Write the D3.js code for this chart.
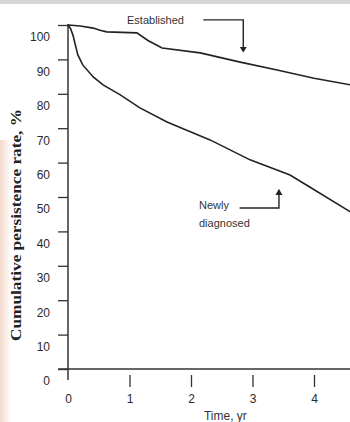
<!DOCTYPE html>
<html lang="en">
    <head>
        <meta charset="UTF-8" />
        <title>Persistence</title>
        <script src="https://d3js.org/d3.v7.js"></script>
    </head>

    <body>
        <div id="chart"></div>
    </body>

    <script>
        // values: time in years, persistence in %
        const establishedT = [0, 0.2, 0.41, 0.52, 0.63, 1.12, 1.3, 1.53, 2.15, 2.8, 3.4, 4.0, 4.6];
        const establishedV = [100, 99.7, 99.1, 98.5, 98, 97.7, 95.5, 93.3, 91.9, 89.2, 86.9, 84.5, 82.6];

        const newlyT = [0, 0.04, 0.08, 0.16, 0.24, 0.41, 0.57, 0.85, 1.17, 1.61, 2.31, 2.96, 3.61, 3.93, 4.6];
        const newlyV = [100, 99, 97.1, 91.3, 88.4, 84.9, 82.6, 79.7, 75.9, 71.8, 66.6, 60.8, 56.4, 52.9, 45.6];

        const yTicks = [0, 10, 20, 30, 40, 50, 60, 70, 80, 90, 100];
        const xTicks = [0, 1, 2, 3, 4];

        const width = 350, height = 422;

        const svg = d3.select("#chart")
            .append("svg")
            .attr("width", width)
            .attr("height", height);

        // faint scan artefacts: grey strip on top, peach tint on the left
        const defs = svg.append("defs");
        const grad = defs.append("linearGradient").attr("id", "edge");
        grad.append("stop").attr("offset", "0%").attr("stop-color", "#f4d9cc");
        grad.append("stop").attr("offset", "100%").attr("stop-color", "#ffffff");
        svg.append("rect").attr("x", 0).attr("y", 0).attr("width", width).attr("height", height).attr("fill", "#fff");
        svg.append("rect").attr("x", 0).attr("y", 140).attr("width", 11).attr("height", 282).attr("fill", "url(#edge)");
        svg.append("rect").attr("x", 0).attr("y", 0).attr("width", width).attr("height", 4).attr("fill", "#d6d6d6");

        const x = d3.scaleLinear().domain([0, 4]).range([68, 314]);
        const y = d3.scaleLinear().domain([0, 100]).range([369, 25]);

        // y axis
        const yAxis = svg.append("g")
            .attr("transform", `translate(${x(0)},0)`)
            .call(d3.axisLeft(y).tickValues(yTicks).tickSize(10).tickPadding(8));
        yAxis.select(".domain").remove();
        yAxis.selectAll("line").attr("stroke", "#333").attr("stroke-width", 1.3);
        yAxis.selectAll("text")
            .attr("y", 12)
            .style("font-family", "Liberation Sans, Arial, sans-serif")
            .style("font-size", "12px")
            .attr("fill", "#2a2a2a");

        svg.append("line")
            .attr("x1", x(0)).attr("x2", x(0))
            .attr("y1", y(100.3)).attr("y2", y(-3.2))
            .attr("stroke", "#333").attr("stroke-width", 1.5);

        // x axis
        const xAxis = svg.append("g")
            .attr("transform", `translate(0,${y(0)})`)
            .call(d3.axisBottom(x).tickValues(xTicks).tickFormat(d3.format("d")).tickSize(0).tickPadding(25));
        xAxis.select(".domain").remove();
        xAxis.selectAll("text")
            .style("font-family", "Liberation Sans, Arial, sans-serif")
            .style("font-size", "12px")
            .attr("fill", "#2a2a2a");
        xAxis.selectAll(".tick")
            .filter(d => d > 0)
            .append("line")
            .attr("y1", 6).attr("y2", 18)
            .attr("stroke", "#333").attr("stroke-width", 1.3);

        svg.append("line")
            .attr("x1", x(-0.16)).attr("x2", x(4.6))
            .attr("y1", y(0)).attr("y2", y(0))
            .attr("stroke", "#333").attr("stroke-width", 1.5);

        // axis titles
        svg.append("text")
            .attr("transform", `translate(21,${(y(0) + y(100)) / 2 + 28}) rotate(-90)`)
            .attr("text-anchor", "middle")
            .attr("textLength", 232)
            .attr("lengthAdjust", "spacingAndGlyphs")
            .style("font-family", "Liberation Serif, Times New Roman, serif")
            .style("font-weight", "bold")
            .style("font-size", "14px")
            .attr("fill", "#222")
            .text("Cumulative persistence rate, %");

        svg.append("text")
            .attr("x", x(2.56))
            .attr("y", 420)
            .attr("text-anchor", "middle")
            .style("font-family", "Liberation Sans, Arial, sans-serif")
            .style("font-size", "12px")
            .attr("fill", "#333")
            .text("Time, yr");

        // curves
        const line = d3.line()
            .x(d => x(d[0]))
            .y(d => y(d[1]));

        svg.append("path")
            .datum(d3.zip(establishedT, establishedV))
            .attr("d", line)
            .attr("fill", "none")
            .attr("stroke", "#222")
            .attr("stroke-width", 1.6);

        svg.append("path")
            .datum(d3.zip(newlyT, newlyV))
            .attr("d", line)
            .attr("fill", "none")
            .attr("stroke", "#222")
            .attr("stroke-width", 1.6);

        // annotations
        const labelStyle = sel => sel
            .style("font-family", "Liberation Sans, Arial, sans-serif")
            .style("font-size", "11px")
            .attr("fill", "#333");

        svg.append("text")
            .attr("x", x(0.96)).attr("y", y(101.5))
            .attr("dy", "0.35em")
            .call(labelStyle)
            .text("Established");

        svg.append("path")
            .attr("d", `M${x(2.2)},${y(101.5)}H${x(2.85)}V${y(93.6)}`)
            .attr("fill", "none").attr("stroke", "#222").attr("stroke-width", 1.4);
        svg.append("path")
            .attr("d", `M${x(2.85) - 3.5},${y(93.6)}L${x(2.85) + 3.5},${y(93.6)}L${x(2.85)},${y(92)}Z`)
            .attr("fill", "#222");

        svg.append("text")
            .attr("x", x(2.13)).attr("y", y(47.6))
            .attr("dy", "0.35em")
            .call(labelStyle)
            .text("Newly");
        svg.append("text")
            .attr("x", x(2.13)).attr("y", y(42.4))
            .attr("dy", "0.35em")
            .call(labelStyle)
            .text("diagnosed");

        svg.append("path")
            .attr("d", `M${x(2.79)},${y(46.8)}H${x(3.43)}V${y(50.6)}`)
            .attr("fill", "none").attr("stroke", "#222").attr("stroke-width", 1.4);
        svg.append("path")
            .attr("d", `M${x(3.43) - 3.5},${y(50.6)}L${x(3.43) + 3.5},${y(50.6)}L${x(3.43)},${y(52.4)}Z`)
            .attr("fill", "#222");
    </script>

    <style>
        body {
            margin: 0;
            background: #fff;
        }

        svg {
            display: block;
        }
    </style>
</html>
